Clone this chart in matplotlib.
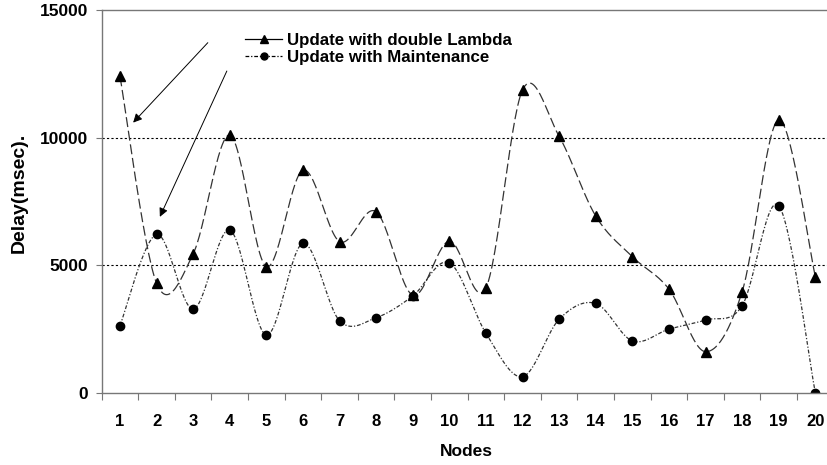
import matplotlib
matplotlib.use("Agg")
import matplotlib.pyplot as plt
import numpy as np

nodes = list(range(1, 21))
double_lambda = [12400, 4300, 5450, 10100, 4950, 8730, 5930, 7100, 3830, 5950,
                 4120, 11870, 10050, 6930, 5340, 4070, 1620, 3970, 10700, 4560]
maintenance = [2640, 6210, 3290, 6380, 2270, 5860, 2830, 2950, 3800, 5100,
               2340, 640, 2890, 3510, 2040, 2500, 2860, 3420, 7340, 0]

# annotation arrows (tail -> head), data coords
arrow_tails = [(3.40, 13720), (3.92, 12610)]
arrow_heads = [(1.36, 10590), (2.09, 6900)]


def smooth(xs, ys, n=30):
    # Excel-style smoothed line: Catmull-Rom Bezier through the points
    p = np.column_stack([xs, ys]).astype(float)
    p = np.vstack([p[0], p, p[-1]])
    out = []
    t = np.linspace(0, 1, n)[:, None]
    for i in range(1, len(p) - 2):
        p0, p1, p2, p3 = p[i - 1], p[i], p[i + 1], p[i + 2]
        c1 = p1 + (p2 - p0) / 6.0
        c2 = p2 - (p3 - p1) / 6.0
        seg = ((1 - t) ** 3) * p1 + 3 * ((1 - t) ** 2) * t * c1 + 3 * (1 - t) * t ** 2 * c2 + t ** 3 * p2
        out.append(seg if i == 1 else seg[1:])
    seg = np.vstack(out)
    return seg[:, 0], seg[:, 1]


plt.rcParams.update({
    "font.family": "Liberation Sans",
    "font.weight": "bold",
})

fig = plt.figure(figsize=(8.28, 4.65), dpi=100)
ax = fig.add_axes([0.1228, 0.1548, 0.884, 0.8237])

line_col = "#333333"
sx, sy = smooth(nodes, double_lambda)
ax.plot(sx, sy, color=line_col, lw=0.9, dashes=(8, 3))
sx, sy = smooth(nodes, maintenance)
ax.plot(sx, sy, color=line_col, lw=0.9, dashes=(3, 1.5, 1, 1.5))

ax.plot(nodes, double_lambda, ls="none", marker="^", ms=7.5, color="black")
ax.plot(nodes, maintenance, ls="none", marker="o", ms=6, color="black")

# legend proxies
h1, = ax.plot([], [], color="black", lw=0.9, marker="^", ms=5.5)
h2, = ax.plot([], [], color="black", lw=0.9, marker="o", ms=5, dashes=(3, 1.5, 1, 1.5))
ax.legend([h1, h2], ["Update with double Lambda", "Update with Maintenance"],
          loc="upper left", bbox_to_anchor=(245 / 828, 1 - 33 / 465), bbox_transform=fig.transFigure,
          frameon=False, handlelength=2.2, handletextpad=0.3, labelspacing=0.12,
          borderpad=0, borderaxespad=0, prop={"size": 12.2, "weight": "bold"})

for (tx, ty), (hx, hy) in zip(arrow_tails, arrow_heads):
    ax.annotate("", xy=(hx, hy), xytext=(tx, ty),
                arrowprops=dict(arrowstyle="-|>", color="black", lw=0.7, mutation_scale=13,
                                shrinkA=0, shrinkB=0))

for yv in (5000, 10000):
    ax.axhline(yv, color="black", lw=0.8, dashes=(2, 2), zorder=0)

ax.set_xlim(0.5, 20.5)
ax.set_ylim(0, 15000)
ax.set_yticks([0, 5000, 10000, 15000])
ax.set_yticklabels(["0", "5000", "10000", "15000"], fontsize=12.5, fontweight="bold")
ax.set_xticks(np.arange(0.5, 21, 1))
ax.set_xticklabels([])
ax.set_xticks(nodes, minor=True)
ax.set_xticklabels([str(n) for n in nodes], minor=True, fontsize=12, fontweight="bold")
ax.tick_params(axis="x", which="major", direction="out", length=5, color="#777777")
ax.tick_params(axis="x", which="minor", length=0, pad=15)
ax.tick_params(axis="y", direction="out", length=4, color="#777777", pad=6)

for s in ["left", "bottom", "top"]:
    ax.spines[s].set_color("#777777")
    ax.spines[s].set_linewidth(1.0)
ax.spines["right"].set_visible(False)

fig.text(19.5 / 828, 1 - 193 / 465, "Delay(msec).", rotation=90, ha="center", va="center",
         fontsize=14, fontweight="bold")
fig.text(466 / 828, 1 - 451 / 465, "Nodes", ha="center", va="center",
         fontsize=12.5, fontweight="bold")

fig.savefig("out.png", dpi=100)
